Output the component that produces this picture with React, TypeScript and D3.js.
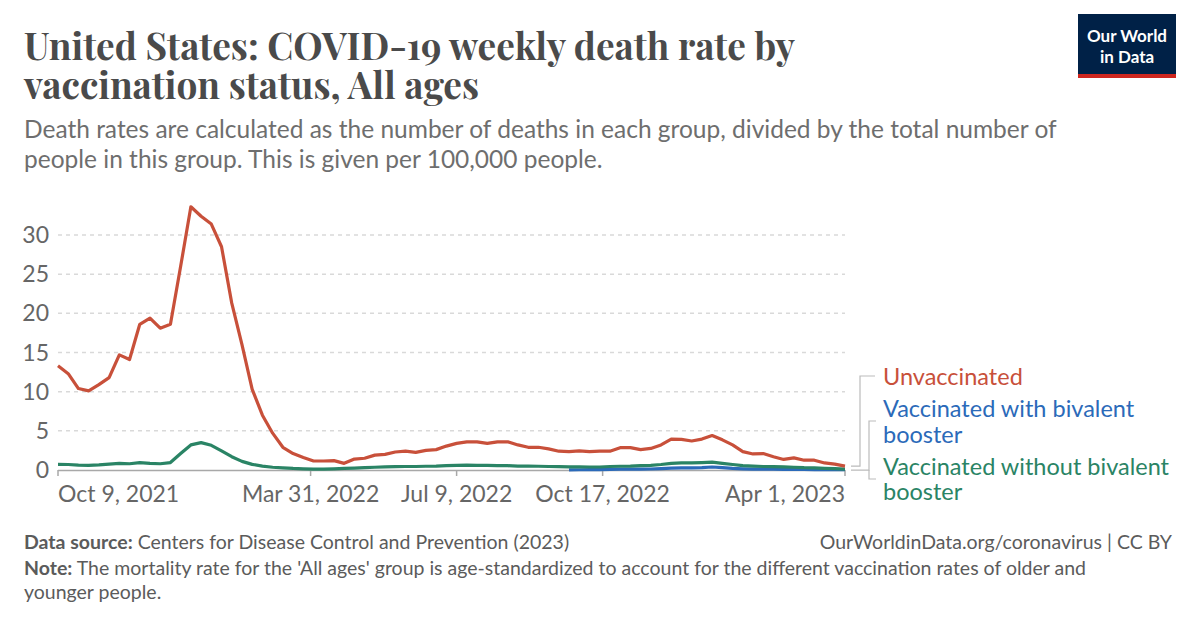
import React from "react";
import * as d3 from "d3";

const startDate = new Date(2021, 9, 9);
const endDate = new Date(2023, 3, 1);
const weeks: Date[] = d3.timeDay.range(startDate, d3.timeDay.offset(endDate, 1), 7);

const unvaccinated = [
  13.3, 12.3, 10.4, 10.1, 10.9, 11.8, 14.7, 14.1, 18.6, 19.4, 18.1, 18.6, 26.0, 33.6, 32.4, 31.4,
  28.5, 21.3, 16.0, 10.3, 7.0, 4.7, 2.9, 2.1, 1.6, 1.15, 1.15, 1.2, 0.85, 1.4, 1.5, 1.9, 2.0, 2.3,
  2.4, 2.25, 2.5, 2.6, 3.05, 3.4, 3.6, 3.6, 3.4, 3.6, 3.6, 3.2, 2.9, 2.9, 2.7, 2.4, 2.35, 2.45,
  2.35, 2.4, 2.4, 2.85, 2.85, 2.6, 2.75, 3.2, 3.95, 3.9, 3.7, 3.95, 4.4, 3.85, 3.2, 2.35, 2.05,
  2.1, 1.7, 1.35, 1.55, 1.25, 1.25, 0.9, 0.75, 0.5,
];

const withoutBivalent = [
  0.72, 0.7, 0.62, 0.6, 0.65, 0.75, 0.85, 0.8, 0.95, 0.85, 0.8, 0.95, 2.1, 3.2, 3.5, 3.15, 2.45,
  1.7, 1.1, 0.72, 0.5, 0.35, 0.28, 0.2, 0.15, 0.1, 0.12, 0.15, 0.2, 0.25, 0.3, 0.35, 0.4, 0.42,
  0.45, 0.45, 0.48, 0.5, 0.55, 0.6, 0.62, 0.6, 0.58, 0.55, 0.55, 0.5, 0.5, 0.48, 0.45, 0.42, 0.4,
  0.4, 0.38, 0.38, 0.45, 0.48, 0.5, 0.55, 0.6, 0.7, 0.85, 0.9, 0.9, 0.95, 1.0, 0.85, 0.7, 0.55,
  0.5, 0.45, 0.42, 0.4, 0.35, 0.3, 0.28, 0.22, 0.18, 0.12,
];

const bivalentStartIndex = 50;
const withBivalent = [
  0.02, 0.03, 0.05, 0.06, 0.08, 0.1, 0.1, 0.12, 0.13, 0.18, 0.25, 0.27, 0.28, 0.3, 0.38, 0.3, 0.2,
  0.15, 0.12, 0.1, 0.1, 0.08, 0.08, 0.07, 0.06, 0.05, 0.05, 0.04,
];

const yTicks = [0, 5, 10, 15, 20, 25, 30];
const xTickDates = [new Date(2021, 9, 9), new Date(2022, 2, 31), new Date(2022, 6, 9), new Date(2022, 9, 17), new Date(2023, 3, 1)];
const xTickLabels = ["Oct 9, 2021", "Mar 31, 2022", "Jul 9, 2022", "Oct 17, 2022", "Apr 1, 2023"];

const RED = "#c8503a";
const BLUE = "#2b6ab9";
const GREEN = "#2a8465";
const FONT = "Lato, 'Noto Sans', sans-serif";
const SERIF = "'Playfair Display', 'DejaVu Serif', Georgia, serif";

export default function App() {
  const x = d3.scaleTime().domain([startDate, endDate]).range([58, 845]);
  const y = d3.scaleLinear().domain([0, 30]).range([470, 235]);

  const line = d3
    .line<[Date, number]>()
    .x((d) => x(d[0]))
    .y((d) => y(d[1]));

  const redPts: [Date, number][] = unvaccinated.map((v, i) => [weeks[i], v]);
  const greenPts: [Date, number][] = withoutBivalent.map((v, i) => [weeks[i], v]);
  const bluePts: [Date, number][] = withBivalent.map((v, i) => [weeks[i + bivalentStartIndex], v]);

  const xEnd = x(endDate);
  const yRedEnd = y(unvaccinated[unvaccinated.length - 1]);
  const yGreenEnd = y(withoutBivalent[withoutBivalent.length - 1]);

  return (
    <svg
      width={1200}
      height={628}
      style={{ position: "absolute", left: 0, top: 0, background: "#fff" }}
      fontFamily={FONT}
    >
      <rect width={1200} height={628} fill="#fff" />
      {/* Title */}
      <text x={24} y={60} fontFamily={SERIF} fontWeight={700} fontSize={37} fill="#4a4a4a">
        United States: COVID-19 weekly death rate by
      </text>
      <text x={24} y={99} fontFamily={SERIF} fontWeight={700} fontSize={37} fill="#4a4a4a">
        vaccination status, All ages
      </text>
      {/* Subtitle */}
      <text x={24} y={138} fontSize={24.5} fill="#6e6e6e">
        Death rates are calculated as the number of deaths in each group, divided by the total number of
      </text>
      <text x={24} y={168} fontSize={24.5} fill="#6e6e6e">
        people in this group. This is given per 100,000 people.
      </text>

      {/* Logo */}
      <rect x={1078} y={14} width={98} height={60} fill="#002147" />
      <rect x={1078} y={74} width={98} height={4} fill="#ce261e" />
      <text x={1127} y={42} textAnchor="middle" fontSize={17} fontWeight={700} fill="#fff">Our World</text>
      <text x={1127} y={63} textAnchor="middle" fontSize={17} fontWeight={700} fill="#fff">in Data</text>

      {/* Gridlines */}
      {yTicks.map((t) => (
        <g key={t}>
          {t > 0 && (
            <line x1={58} x2={845} y1={y(t)} y2={y(t)} stroke="#d9d9d9" strokeWidth={1.5} strokeDasharray="4,4" />
          )}
          <text x={49} y={y(t) + 8} textAnchor="end" fontSize={23} fill="#666">
            {t}
          </text>
        </g>
      ))}

      {/* X axis */}
      <line x1={58} x2={845} y1={470.5} y2={470.5} stroke="#a8a8a8" strokeWidth={1.5} />
      {xTickDates.map((d, i) => {
        const px = x(d);
        const anchor = i === 0 ? "start" : i === xTickDates.length - 1 ? "end" : "middle";
        return (
          <g key={i}>
            <line x1={px} x2={px} y1={470} y2={476} stroke="#a8a8a8" strokeWidth={1.5} />
            <text x={px} y={502} textAnchor={anchor} fontSize={23} fill="#666">
              {xTickLabels[i]}
            </text>
          </g>
        );
      })}

      {/* Lines */}
      <path d={line(bluePts) || ""} fill="none" stroke={BLUE} strokeWidth={3.2} strokeLinejoin="round" />
      <path d={line(greenPts) || ""} fill="none" stroke={GREEN} strokeWidth={3.2} strokeLinejoin="round" />
      <path d={line(redPts) || ""} fill="none" stroke={RED} strokeWidth={3.2} strokeLinejoin="round" />

      {/* Legend connectors */}
      <path d={`M${xEnd + 6},${yRedEnd} H860 V376 H875`} fill="none" stroke="#bbb" strokeWidth={1.2} />
      <path d={`M${xEnd + 6},${yGreenEnd + 1} H869 V421 H876`} fill="none" stroke="#bbb" strokeWidth={1.2} />
      <path d={`M869,${yGreenEnd + 1} V479 H876`} fill="none" stroke="#bbb" strokeWidth={1.2} />

      {/* Legend labels */}
      <text x={883} y={385} fontSize={23.5} fill={RED}>Unvaccinated</text>
      <text x={883} y={417} fontSize={23.5} fill={BLUE}>Vaccinated with bivalent</text>
      <text x={883} y={443} fontSize={23.5} fill={BLUE}>booster</text>
      <text x={883} y={475} fontSize={23.5} fill={GREEN}>Vaccinated without bivalent</text>
      <text x={883} y={500} fontSize={23.5} fill={GREEN}>booster</text>

      {/* Footer */}
      <text x={24} y={549} fontSize={19.5} fill="#5b5b5b">
        <tspan fontWeight={700}>Data source:</tspan> Centers for Disease Control and Prevention (2023)
      </text>
      <text x={1172} y={549} textAnchor="end" fontSize={19.5} fill="#5b5b5b">
        OurWorldinData.org/coronavirus | CC BY
      </text>
      <text x={24} y={575} fontSize={19.5} fill="#5b5b5b">
        <tspan fontWeight={700}>Note:</tspan> The mortality rate for the 'All ages' group is age-standardized to account for the different vaccination rates of older and
      </text>
      <text x={24} y={599} fontSize={19.5} fill="#5b5b5b">
        younger people.
      </text>
    </svg>
  );
}
